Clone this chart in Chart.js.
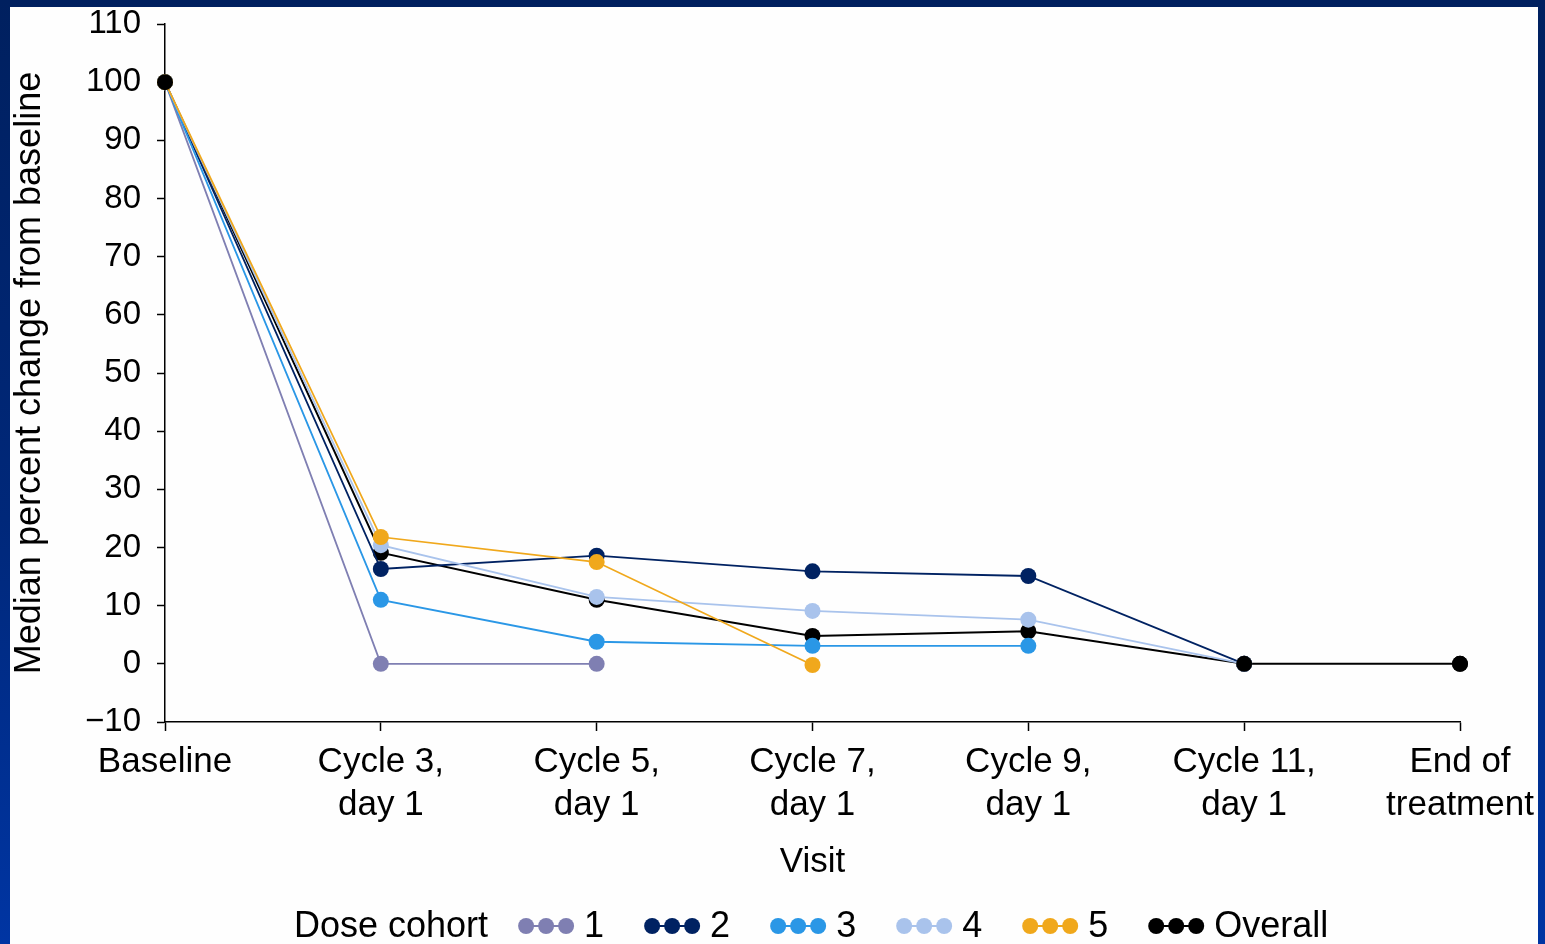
<!DOCTYPE html>
<html><head><meta charset="utf-8">
<script src="https://cdn.jsdelivr.net/npm/chart.js@4/dist/chart.umd.min.js"></script>
<style>
html,body{margin:0;padding:0;width:1545px;height:944px;overflow:hidden;background:linear-gradient(180deg,#00205f 0%,#00287a 55%,#0035a3 100%);}
#panel{position:absolute;left:10px;top:7px;width:1528px;height:937px;background:#fefefe;}
canvas{display:block}
</style></head><body>
<div id="panel"><canvas id="c" width="1528" height="937"></canvas></div>
<script>
const visits = ["Baseline", ["Cycle 3,", "day 1"], ["Cycle 5,", "day 1"], ["Cycle 7,", "day 1"], ["Cycle 9,", "day 1"], ["Cycle 11,", "day 1"], ["End of", "treatment"]];
const seriesNames = ["1", "2", "3", "4", "5", "Overall"];
const seriesColors = ["#7f7fb2", "#002262", "#2a97e6", "#a9c3ec", "#f0a81c", "#000000"];
const cohort1 = [100, 0, 0, null, null, null, null];
const cohort2 = [100, 16.3, 18.6, 15.9, 15.1, 0, null];
const cohort3 = [100, 11.0, 3.8, 3.1, 3.1, null, null];
const cohort4 = [100, 20.4, 11.5, 9.1, 7.6, 0, null];
const cohort5 = [100, 21.8, 17.5, -0.2, null, null, null];
const overall = [100, 19.1, 11.0, 4.8, 5.6, 0, 0];
const yTicks = {min: -10, max: 110, step: 10};
const xTitle = "Visit";
const yTitle = "Median percent change from baseline";
const legendTitle = "Dose cohort";

const FONT = '"Liberation Sans", Arial, Helvetica, sans-serif';
const allSeries = [cohort1, cohort2, cohort3, cohort4, cohort5, overall];
const drawOrder = [5, 4, 3, 2, 1, 6];

const datasets = allSeries.map((d, i) => ({
  label: seriesNames[i],
  data: d,
  borderColor: seriesColors[i],
  backgroundColor: seriesColors[i],
  pointBackgroundColor: seriesColors[i],
  pointBorderColor: seriesColors[i],
  pointBorderWidth: 0,
  pointRadius: 8,
  borderWidth: i === 5 ? 2 : 1.8,
  tension: 0,
  order: drawOrder[i]
}));

const legendPlugin = {
  id: 'doseLegend',
  afterDatasetsDraw(chart) {
    // keep the overall markers at baseline / convergence on top
    const meta = chart.getDatasetMeta(5);
    [0, 5, 6].forEach(k => { if (meta && meta.data[k]) meta.data[k].draw(chart.ctx); });
  },
  afterDraw(chart) {
    const ctx = chart.ctx;
    ctx.save();
    ctx.font = '36px ' + FONT;
    ctx.textBaseline = 'middle';
    ctx.textAlign = 'left';
    const y = 919;
    let x = 284;
    ctx.fillStyle = '#000';
    ctx.fillText(legendTitle, x, y + 1);
    x += ctx.measureText(legendTitle).width + 30;
    chart.data.datasets.forEach(ds => {
      ctx.strokeStyle = ds.borderColor;
      ctx.fillStyle = ds.borderColor;
      ctx.lineWidth = 2;
      ctx.beginPath();
      ctx.moveTo(x + 8, y); ctx.lineTo(x + 48, y); ctx.stroke();
      [8, 28, 48].forEach(dx => { ctx.beginPath(); ctx.arc(x + dx, y, 8, 0, Math.PI * 2); ctx.fill(); });
      x += 56 + 10;
      ctx.fillStyle = '#000';
      ctx.fillText(ds.label, x, y + 1);
      x += ctx.measureText(ds.label).width + 40;
    });
    ctx.restore();
  }
};

new Chart(document.getElementById('c'), {
  type: 'line',
  data: {labels: visits, datasets},
  plugins: [legendPlugin],
  options: {
    responsive: false,
    animation: false,
    layout: {padding: {left: 0, top: 17, right: 78, bottom: 0}},
    plugins: {legend: {display: false}, tooltip: {enabled: false}},
    scales: {
      x: {
        type: 'category',
        offset: false,
        afterFit(s) { s.height = 222; s.paddingLeft = 0; s.paddingRight = 0; },
        grid: {display: true, drawOnChartArea: false, drawTicks: true, tickLength: 9, tickColor: '#000', tickWidth: 1.5, offset: false},
        border: {display: true, color: '#000', width: 1.5},
        ticks: {color: '#000', font: {family: FONT, size: 35, lineHeight: 1.23}, padding: 10, maxRotation: 0, autoSkip: false},
        title: {display: true, text: xTitle, color: '#000', font: {family: FONT, size: 35, lineHeight: 1.2}, padding: {top: 0, bottom: 61}}
      },
      y: {
        min: yTicks.min, max: yTicks.max,
        afterFit(s) { s.width = 155; s.paddingTop = 0; s.paddingBottom = 0; },
        grid: {display: true, drawOnChartArea: false, drawTicks: true, tickLength: 8, tickColor: '#000', tickWidth: 1.5},
        border: {display: true, color: '#000', width: 1.5},
        ticks: {stepSize: yTicks.step, color: '#000', font: {family: FONT, size: 33}, padding: 16,
          callback: v => String(v).replace('-', '\u2212')},
        title: {display: true, text: yTitle, color: '#000', font: {family: FONT, size: 36, lineHeight: 1.1}, padding: {top: 0, bottom: 0}}
      }
    }
  }
});
</script>
</body></html>
